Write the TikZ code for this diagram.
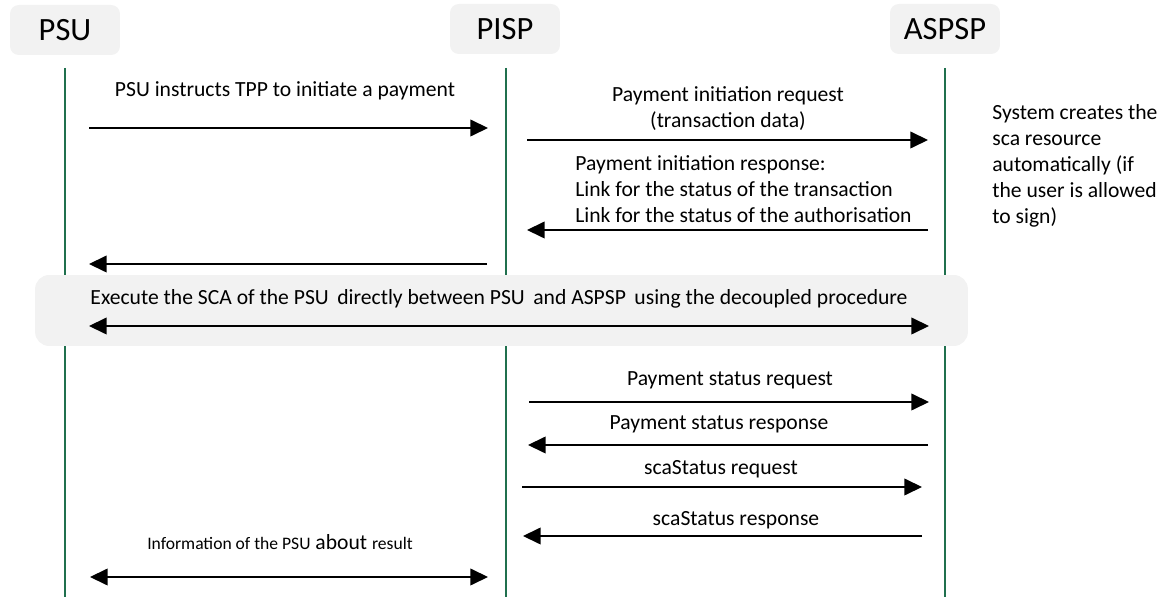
\documentclass[tikz,border=0pt]{standalone}
\usepackage{fontspec}
\setmainfont{Carlito}
\usetikzlibrary{arrows.meta}

\definecolor{lifegreen}{RGB}{32,112,78}
\definecolor{boxgrey}{RGB}{242,242,242}

\begin{document}
\begin{tikzpicture}[x=0.02cm,y=-0.02cm,
    >={Triangle[length=10pt,width=9.5pt]},
    msg/.style={font=\fontsize{12.3}{14.8}\selectfont,inner sep=0pt},
    head/.style={fill=boxgrey,rounded corners=5pt,minimum width=2.2cm,minimum height=1cm,font=\fontsize{18.5}{22}\selectfont}]
   \useasboundingbox (0,0) rectangle (1174,597);
   % actors
   \node[head] (psu) at (65,30) {PSU};
   \node[head] (pisp) at (505,29) {PISP};
   \node[head] (aspsp) at (945,29) {ASPSP};
   % lifelines
   \coordinate (psutop) at (65,68);  \coordinate (psubot) at (65,597);
   \coordinate (pisptop) at (506,68); \coordinate (pispbot) at (506,597);
   \coordinate (aspsptop) at (945,68); \coordinate (aspspbot) at (945,597);
   \begin{scope}[line width=1.3pt]
    \draw[lifegreen] (psutop) -- (psubot);
    \draw[lifegreen] (pisptop) -- (pispbot);
    \draw[lifegreen] (aspsptop) -- (aspspbot);
   \end{scope}
   % decoupled sca
   \node[fill=boxgrey,rounded corners=8pt,minimum width=18.66cm,minimum height=1.42cm] (scabox) at (501.5,310.5) {};
   % arrow ends
   \coordinate (m1s) at (89,128);  \coordinate (m1e) at (488,128);
   \coordinate (m2s) at (527,140); \coordinate (m2e) at (928,140);
   \coordinate (m3s) at (928,230); \coordinate (m3e) at (527,230);
   \coordinate (m4s) at (487,264); \coordinate (m4e) at (89,264);
   \coordinate (m5s) at (89,326);  \coordinate (m5e) at (929,326);
   \coordinate (m6s) at (529,402); \coordinate (m6e) at (929,402);
   \coordinate (m7s) at (928,445); \coordinate (m7e) at (528,445);
   \coordinate (m8s) at (522,487); \coordinate (m8e) at (922,487);
   \coordinate (m9s) at (922,536); \coordinate (m9e) at (523,536);
   \coordinate (m10s) at (90,577); \coordinate (m10e) at (488,577);
   % labels
   \begin{scope}[every node/.style={msg}]
    \node (l1) at (285,91) {PSU instructs TPP to initiate a payment};
    \node[align=center] (l2) at (728,109) {Payment initiation request\\(transaction data)};
    \node[align=left,anchor=west] (l3) at (575,189) {Payment initiation response:\\Link for the status of the transaction\\Link for the status of the authorisation};
    \node[align=left,anchor=west] (note) at (992,166) {System creates the\\sca resource\\automatically (if\\the user is allowed\\to sign)};
    \node (l5) at (499,299) {Execute the SCA of the PSU\, directly between PSU\, and ASPSP\, using the decoupled procedure};
    \node (l6) at (730,380) {Payment status request};
    \node (l7) at (719,424) {Payment status response};
    \node (l8) at (721,469) {scaStatus request};
    \node (l9) at (736,520) {scaStatus response};
    \node (l10) at (280,542) {{\fontsize{10}{12}\selectfont Information of the PSU} about {\fontsize{10}{12}\selectfont result}};
   \end{scope}
   % messages
   \begin{scope}[every edge/.style={draw=black,line width=0.75pt}]
    \draw (m1s) edge[->] (m1e);
    \draw (m2s) edge[->] (m2e);
    \draw (m3s) edge[->] (m3e);
    \draw (m4s) edge[->] (m4e);
    \draw (m5s) edge[<->] (m5e);
    \draw (m6s) edge[->] (m6e);
    \draw (m7s) edge[->] (m7e);
    \draw (m8s) edge[->] (m8e);
    \draw (m9s) edge[->] (m9e);
    \draw (m10s) edge[<->] (m10e);
   \end{scope}
\end{tikzpicture}
\end{document}
